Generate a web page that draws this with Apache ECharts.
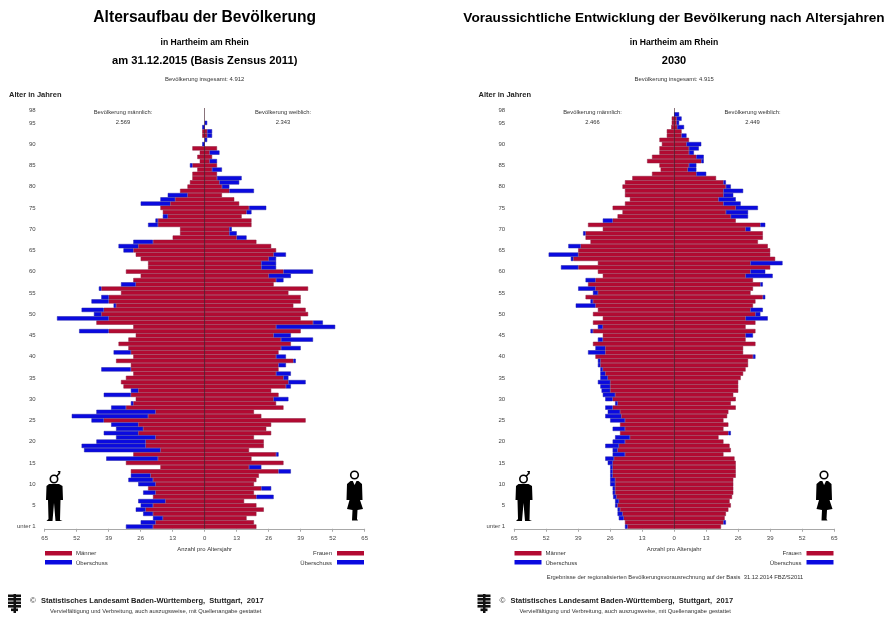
<!DOCTYPE html>
<html>
<head>
<meta charset="utf-8">
<title>Altersaufbau Hartheim am Rhein</title>
<script src="https://cdn.jsdelivr.net/npm/echarts@6/dist/echarts.min.js"></script>
<style>
  html, body { margin: 0; padding: 0; background: #fff; }
  #chart { width: 888px; height: 617px; }
</style>
</head>
<body>
<div id="chart"></div>
<script>
// Alter 0 ... 98, von unten nach oben
const maenner2015 = [32,26,21,25,28,26,27,21,25,23, 27,31,30,30,18,32,40,29,49,50,
  44,36,41,36,38,46,54,44,38,30, 28,41,30,33,34,32,29,42,30,36,
  29,37,31,35,31,28,51,29,44,60, 45,50,37,46,42,34,43,34,29,26,
  32,23,23,26,28,33,35,29,13,10, 10,23,20,17,17,18,26,18,15,10,
  7,6,5,5,3,6,2,3,2,5, 1,0,1,1,1,0,0,0,0];
const frauen2015 = [21,20,17,21,24,21,16,28,20,27, 20,21,22,35,23,32,19,30,18,24,
  24,20,27,25,27,41,23,20,32,29, 34,30,27,35,41,34,35,30,33,37,
  33,30,39,35,44,35,39,53,48,39, 42,41,36,39,39,34,42,28,32,35,
  44,29,29,29,33,29,27,21,17,13, 11,19,19,15,19,25,14,12,7,20,
  10,14,15,5,7,5,5,3,6,5, 0,1,3,3,0,1,0,0,0];
const maenner2030 = [20,20,22.5,23,23,24,24,24.8,25,25, 26,26,26,26,26,27,28,25,25,28,
  25,24,22,25,22,26,28,27,28,24, 28,29,29.5,30,31,30,30,30,31,31,
  32,35,32,33,31,29,34,31,33,29, 33,31,40,34,36,33,39,35,36,29,
  31,46,31,42,51,39,43,34,36,37, 29,35,29,23,21,25,20,18,20,20,
  21,20,17,9,5.5,6,11,9,6,6, 5,6,3,3,1.2,1,1,0,0];
const frauen2030 = [19,21,20.5,21,22,23,22.5,23.5,24,24, 24,24,25,25,25,25,24.5,20,23,22.5,
  20,18,23,20,22,20,21.5,22,25,23, 25,24,26,26,26,27,28,29,30,30,
  33,28,28,33,29,32,33,29,33,38, 35,36,32,33,37,31,32,36,32,40,
  37,39,44,41,39,39,38,34,36,36, 31,37,25,30,30,34,27,25,24,28,
  23,21,17,13,9,9,12,12,8,10, 11,6,5,3,4,2,3,2,0];
const xTicks = [65,52,39,26,13,0,13,26,39,52,65];
const rot = '#b30a32';
const blau = '#0a0ae0';

const alter = maenner2015.map((v, i) => String(i));

// rot = gemeinsamer Teil beider Seiten, blau = Ueberschuss
function balken(name, stack, xIdx, werte, andere, vorz, farbe, istUeberschuss) {
  return {
    name: name,
    type: 'bar',
    stack: stack,
    xAxisIndex: xIdx,
    yAxisIndex: xIdx,
    barCategoryGap: '0%',
    silent: true,
    itemStyle: {
      color: farbe,
      borderColor: istUeberschuss ? '#2020a8' : '#8a1c3e',
      borderWidth: 0.5
    },
    data: werte.map((v, i) => {
      const w = istUeberschuss ? Math.max(v - andere[i], 0) : Math.min(v, andere[i]);
      return w === 0 ? null : vorz * w;
    })
  };
}

function mittelLinie(serie) {
  serie.markLine = {
    silent: true,
    symbol: 'none',
    label: { show: false },
    lineStyle: { color: 'rgba(40,0,15,0.55)', width: 1, type: 'solid' },
    data: [{ xAxis: 0 }]
  };
  return serie;
}

function serien(idx, m, f) {
  const st = 'pyramide' + idx;
  return [
    mittelLinie(balken('Männer', st, idx, m, f, -1, rot, false)),
    balken('Frauen', st, idx, f, m, 1, rot, false),
    balken('Überschuss', st, idx, m, f, -1, blau, true),
    balken('Überschuss', st, idx, f, m, 1, blau, true)
  ];
}

function xAchse(idx) {
  return {
    gridIndex: idx,
    type: 'value',
    min: -65,
    max: 65,
    interval: 13,
    splitLine: { show: false },
    axisLine: { show: true, onZero: false, lineStyle: { color: '#a8a8a8' } },
    axisTick: { show: true, length: 3, lineStyle: { color: '#a8a8a8' } },
    axisLabel: {
      color: '#444', fontSize: 6, margin: 7, fontFamily: 'Liberation Sans',
      formatter: (v) => String(xTicks[Math.round((v + 65) / 13)])
    }
  };
}

function yAchse(idx) {
  return {
    gridIndex: idx,
    type: 'category',
    data: alter,
    axisLine: { show: false },
    axisTick: { show: false },
    splitLine: { show: false },
    axisLabel: {
      color: '#444', fontSize: 6, margin: 9, fontFamily: 'Liberation Sans',
      interval: (i) => i % 5 === 0 || i === 98,
      formatter: (v) => (v === '0' ? 'unter 1' : v)
    }
  };
}

function txt(x, y, text, size, bold, align, color) {
  return {
    type: 'text', x: x, y: y, silent: true,
    style: {
      text: text,
      fontSize: size,
      fontWeight: bold ? 'bold' : 'normal',
      fontFamily: 'Liberation Sans',
      fill: color || '#222',
      align: align || 'left',
      verticalAlign: 'middle'
    }
  };
}

function box(x, y, w, h, fill) {
  return { type: 'rect', silent: true, shape: { x: x, y: y, width: w, height: h }, style: { fill: fill } };
}

function poly(points, fill) {
  return { type: 'polygon', silent: true, shape: { points: points }, style: { fill: fill || '#000' } };
}

function kopf(x, y, r) {
  return { type: 'circle', silent: true, shape: { cx: x, cy: y, r: r }, style: { fill: '#fff', stroke: '#000', lineWidth: 1.6 } };
}

function mann(dx) {
  const o = [
    kopf(54, 479, 3.7),
    { type: 'line', silent: true, shape: { x1: 56.5, y1: 476.5, x2: 59.5, y2: 473 }, style: { stroke: '#000', lineWidth: 1.4 } },
    poly([[57.5, 471], [60.5, 471], [60, 474.5]]),
    poly([[49, 484], [59, 484], [62.5, 486], [63, 500], [60.5, 500], [60, 520], [62.5, 521], [55.5, 521], [54, 503], [52.5, 521], [46.5, 521], [48.5, 519], [48, 500], [46, 500], [46.5, 486]])
  ];
  return o.map((e) => Object.assign(e, { x: dx }));
}

function frau(dx) {
  const o = [
    kopf(354.5, 475, 3.8),
    poly([[350.5, 481], [358.5, 481], [362, 484], [362.5, 500], [360, 500], [363, 509], [357.5, 510], [357, 519], [358, 520.5], [352, 520.5], [352.5, 510], [347, 509], [349.5, 500], [346.5, 500], [347, 484]]),
    poly([[352.8, 481], [356.5, 481], [354.6, 485]], '#fff')
  ];
  return o.map((e) => Object.assign(e, { x: dx }));
}

function wappen(dx) {
  const o = [];
  [594.5, 598, 601.5, 605, 608.5].forEach((y, i) => {
    o.push(box(8 + dx + (i === 4 ? 3 : 0), y, i === 4 ? 7 : 13, 2.6, '#111'));
  });
  o.push(box(13.5 + dx, 594, 2.5, 19, '#111'));
  return o;
}

// gemeinsame Beschriftung einer Grafik, dx = Versatz gegenueber der linken
function beschriftung(dx, pm, pf, pg) {
  const mitte = 204.7 + dx;
  return [
    txt(mitte, 79, 'Bevölkerung insgesamt: ' + pg, 5.9, false, 'center', '#333'),
    txt(9 + dx, 95, 'Alter in Jahren', 7.5, true),
    txt(123 + dx, 112, 'Bevölkerung männlich:', 5.8, false, 'center', '#333'),
    txt(123 + dx, 122, pm, 5.8, false, 'center', '#333'),
    txt(283 + dx, 112, 'Bevölkerung weiblich:', 5.8, false, 'center', '#333'),
    txt(283 + dx, 122, pf, 5.8, false, 'center', '#333'),
    txt(mitte, 549, 'Anzahl pro Altersjahr', 5.9, false, 'center', '#333'),
    box(45 + dx, 551, 27, 4.5, rot),
    box(45 + dx, 560, 27, 4.5, blau),
    box(337 + dx, 551, 27, 4.5, rot),
    box(337 + dx, 560, 27, 4.5, blau),
    txt(76 + dx, 553.5, 'Männer', 6, false, 'left', '#333'),
    txt(76 + dx, 563, 'Überschuss', 6, false, 'left', '#333'),
    txt(332 + dx, 553.5, 'Frauen', 6, false, 'right', '#333'),
    txt(332 + dx, 563, 'Überschuss', 6, false, 'right', '#333'),
    txt(30 + dx, 601, '©', 8, false, 'left', '#333'),
    txt(41 + dx, 601, 'Statistisches Landesamt Baden-Württemberg,  Stuttgart,  2017', 7.5, true, 'left', '#222'),
    txt(50 + dx, 611, 'Vervielfältigung und Verbreitung, auch auszugsweise, mit Quellenangabe gestattet', 5.8, false, 'left', '#333')
  ].concat(mann(dx), frau(dx), wappen(dx));
}

const titel = [
  txt(204.7, 18, 'Altersaufbau der Bevölkerung', 15.6, true, 'center', '#000'),
  txt(204.7, 43, 'in Hartheim am Rhein', 8.6, true, 'center', '#000'),
  txt(204.7, 61, 'am 31.12.2015 (Basis Zensus 2011)', 11.2, true, 'center', '#000'),
  txt(674, 18, 'Voraussichtliche Entwicklung der Bevölkerung nach Altersjahren', 13.6, true, 'center', '#000'),
  txt(674, 43, 'in Hartheim am Rhein', 8.6, true, 'center', '#000'),
  txt(674, 61, '2030', 11, true, 'center', '#000'),
  txt(675, 577, 'Ergebnisse der regionalisierten Bevölkerungsvorausrechnung auf der Basis  31.12.2014 FBZ/S2011', 5.8, false, 'center', '#333')
];

const myEcharts = echarts.init(document.getElementById('chart'));
myEcharts.setOption({
  animation: false,
  backgroundColor: '#fff',
  grid: [
    { left: 44.7, top: 108, width: 320, height: 420.75 },
    { left: 514.2, top: 108, width: 320, height: 420.75 }
  ],
  xAxis: [xAchse(0), xAchse(1)],
  yAxis: [yAchse(0), yAchse(1)],
  series: serien(0, maenner2015, frauen2015).concat(serien(1, maenner2030, frauen2030)),
  graphic: titel.concat(
    beschriftung(0, '2.569', '2.343', '4.912'),
    beschriftung(469.5, '2.466', '2.449', '4.915')
  )
});
</script>
</body>
</html>
